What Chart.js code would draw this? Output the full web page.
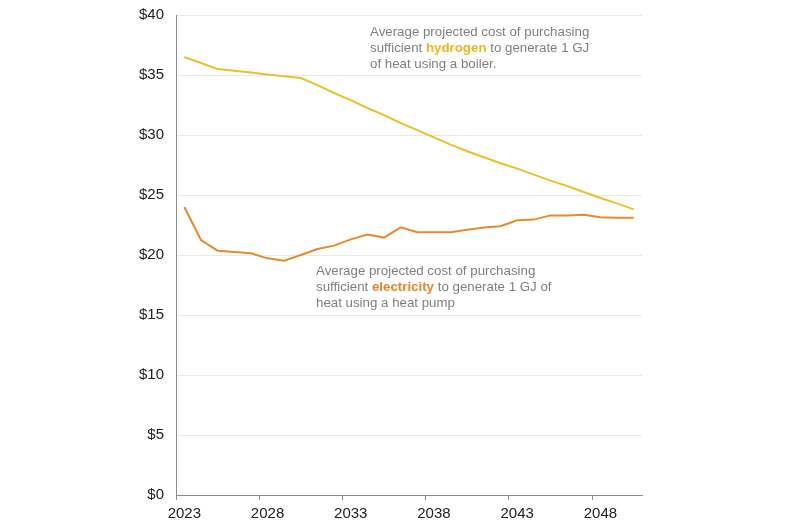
<!DOCTYPE html>
<html>
<head>
<meta charset="utf-8">
<script src="https://cdn.jsdelivr.net/npm/chart.js@4/dist/chart.umd.min.js"></script>
<style>
  html, body { margin: 0; padding: 0; background: #ffffff; }
  #wrap { width: 800px; height: 530px; position: relative; }
</style>
</head>
<body>
<div id="wrap"><canvas id="c" width="800" height="530"></canvas></div>
<script>
const years = [2023,2024,2025,2026,2027,2028,2029,2030,2031,2032,2033,2034,2035,2036,2037,2038,2039,2040,2041,2042,2043,2044,2045,2046,2047,2048,2049,2050];
const hydrogen = [36.5,36.0,35.5,35.35,35.2,35.05,34.9,34.75,34.15,33.5,32.9,32.25,31.65,31.0,30.4,29.8,29.2,28.65,28.15,27.65,27.2,26.7,26.2,25.75,25.25,24.75,24.3,23.8];
const electricity = [24.0,21.25,20.36,20.25,20.14,19.72,19.53,20.0,20.5,20.78,21.3,21.7,21.45,22.3,21.9,21.9,21.9,22.1,22.3,22.4,22.9,22.95,23.3,23.3,23.35,23.15,23.1,23.1];
const yTicks = [0,5,10,15,20,25,30,35,40];
const labelEvery = 5;

const annotations = [
  { x: 370, y: 32, lh: 16.3, lines: [
      [["Average projected cost of purchasing", false]],
      [["sufficient ", false], ["hydrogen", true], [" to generate 1 GJ", false]],
      [["of heat using a boiler.", false]]
    ], accent: "#EDB723" },
  { x: 316, y: 271, lh: 16.3, lines: [
      [["Average projected cost of purchasing", false]],
      [["sufficient ", false], ["electricity", true], [" to generate 1 GJ of", false]],
      [["heat using a heat pump", false]]
    ], accent: "#E8842A" }
];

const annotPlugin = {
  id: 'annot',
  afterDraw(chart) {
    const ctx = chart.ctx;
    ctx.save();
    ctx.textBaseline = 'middle';
    ctx.textAlign = 'left';
    annotations.forEach(a => {
      a.lines.forEach((segs, i) => {
        let x = a.x;
        const y = a.y + i * a.lh;
        segs.forEach(([t, bold]) => {
          ctx.font = (bold ? 'bold ' : '') + '13.3px "Liberation Sans", Arial, sans-serif';
          ctx.fillStyle = bold ? a.accent : '#7f7f7f';
          ctx.fillText(t, x, y);
          x += ctx.measureText(t).width;
        });
      });
    });
    ctx.restore();
  }
};

new Chart(document.getElementById('c'), {
  type: 'line',
  data: {
    labels: years.map(String),
    datasets: [
      { label: 'Hydrogen', data: hydrogen, borderColor: '#EBC02D', borderWidth: 2, pointRadius: 0, tension: 0, fill: false },
      { label: 'Electricity', data: electricity, borderColor: '#E8892C', borderWidth: 2, pointRadius: 0, tension: 0, fill: false }
    ]
  },
  options: {
    responsive: false,
    animation: false,
    devicePixelRatio: 1,
    layout: { padding: { left: 0, right: 158, top: 15, bottom: 0 } },
    plugins: { legend: { display: false }, tooltip: { enabled: false } },
    scales: {
      x: {
        type: 'category',
        offset: true,
        grid: {
          offset: true,
          drawOnChartArea: false,
          drawTicks: true,
          tickLength: 5,
          color: ctx => (ctx.index % labelEvery === 0 ? '#8c8c8c' : 'rgba(0,0,0,0)'),
          lineWidth: 1
        },
        border: { display: true, color: '#8c8c8c', width: 1 },
        ticks: {
          autoSkip: false,
          maxRotation: 0,
          padding: 5,
          color: '#222222',
          font: { family: '"Liberation Sans", Arial, sans-serif', size: 15 },
          callback: function(v, i) { return i % labelEvery === 0 ? this.getLabelForValue(v) : ''; }
        },
        afterFit: s => { s.height = 35; s.paddingLeft = 0; s.paddingRight = 0; }
      },
      y: {
        min: 0, max: 40,
        afterBuildTicks: s => { s.ticks = yTicks.map(v => ({ value: v })); },
        grid: { color: '#e9e9e9', drawTicks: false, lineWidth: 1 },
        border: { display: true, color: '#8c8c8c', width: 1 },
        ticks: {
          padding: 12,
          color: '#222222',
          font: { family: '"Liberation Sans", Arial, sans-serif', size: 15 },
          callback: v => '$' + v
        },
        afterFit: s => { s.width = 176; s.paddingTop = 0; s.paddingBottom = 0; }
      }
    }
  },
  plugins: [annotPlugin]
});
</script>
</body>
</html>
